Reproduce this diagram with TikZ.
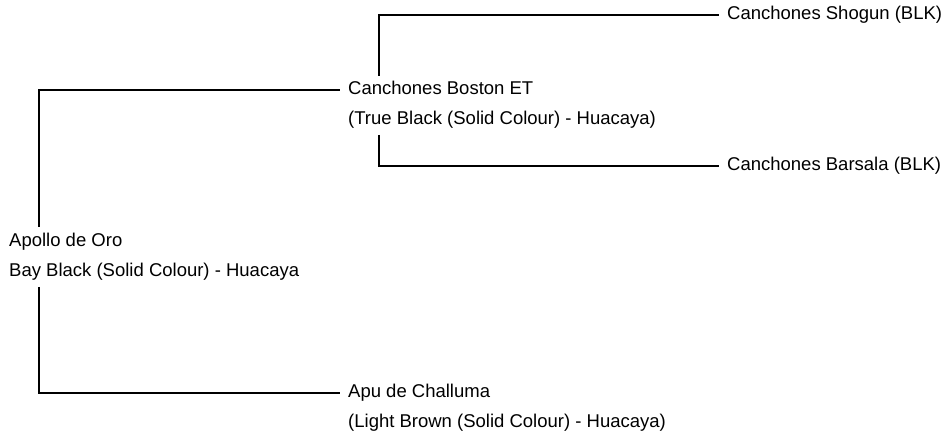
\documentclass[tikz,border=0pt]{standalone}
\usepackage{fontspec}
\setmainfont{Liberation Sans}
\begin{document}
\begin{tikzpicture}[x=1pt,y=1pt,
  lbl/.style={anchor=west,inner xsep=8pt,inner ysep=0pt,text height=0.9em,text depth=0pt,font=\fontsize{18.5pt}{22pt}\selectfont},
  conn/.style={line width=1.2pt,black}]
\useasboundingbox (0,0) rectangle (943,436);
\node[lbl] (apo)  at (1,194) {Apollo de Oro};
\node[lbl] (apo2) at (1,164) {Bay Black (Solid Colour) - Huacaya};
\node[lbl] (bos)  at (340,346) {Canchones Boston ET};
\node[lbl] (bos2) at (340,316) {(True Black (Solid Colour) - Huacaya)};
\node[lbl] (sho)  at (719,421) {Canchones Shogun (BLK)};
\node[lbl] (bar)  at (719,270) {Canchones Barsala (BLK)};
\node[lbl] (apu)  at (340,43) {Apu de Challuma};
\node[lbl] (apu2) at (340,13) {(Light Brown (Solid Colour) - Huacaya)};
\draw[conn] ([xshift=38pt,yshift=15pt]apo.west) |- (bos.west);
\draw[conn] ([xshift=38pt,yshift=-15pt]apo2.west) |- (apu.west);
\draw[conn] ([xshift=39pt,yshift=14pt]bos.west) |- (sho.west);
\draw[conn] ([xshift=39pt,yshift=-15pt]bos2.west) |- (bar.west);
\end{tikzpicture}
\end{document}
